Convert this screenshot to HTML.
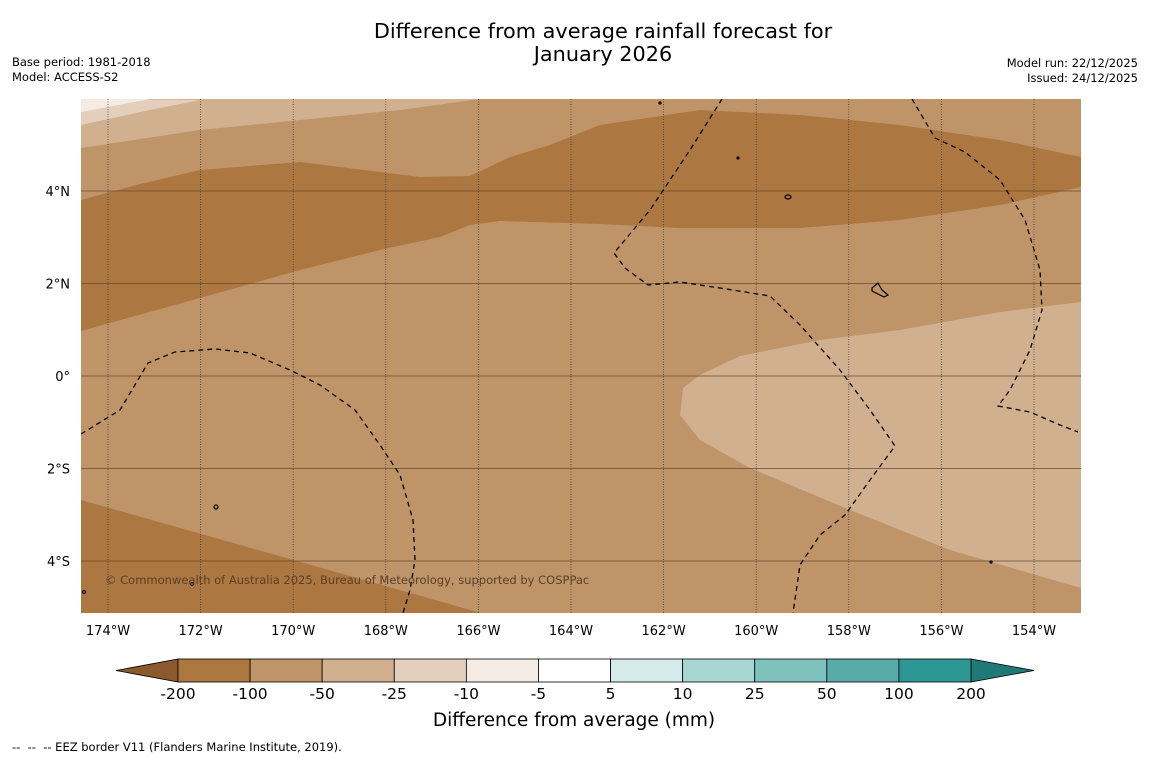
<!DOCTYPE html>
<html><head><meta charset="utf-8"><style>
body{margin:0;background:#fff;font-family:"DejaVu Sans",sans-serif;}
svg{display:block}
</style></head><body>
<svg width="1150" height="758" viewBox="0 0 1150 758" font-family="DejaVu Sans, sans-serif">
<text x="603" y="38" font-size="20.8" text-anchor="middle">Difference from average rainfall forecast for</text>
<text x="603" y="61" font-size="20.8" text-anchor="middle">January 2026</text>
<text x="12" y="66" font-size="11.5">Base period: 1981-2018</text>
<text x="12" y="81" font-size="11.5">Model: ACCESS-S2</text>
<text x="1138" y="67" font-size="11.5" text-anchor="end">Model run: 22/12/2025</text>
<text x="1138" y="82" font-size="11.5" text-anchor="end">Issued: 24/12/2025</text>
<defs><clipPath id="mc"><rect x="81" y="99" width="1000" height="514"/></clipPath></defs>
<g clip-path="url(#mc)">
<rect x="81" y="99" width="1000" height="514" fill="#c09469"/>
<path d="M81,148 L200,130 L300,120 L400,110 L480,99 L81,99Z" fill="#d1b08f"/>
<path d="M81,125 L150,110 L200,100 L81,99Z" fill="#e4cfbc"/>
<path d="M81,112 L150,99 L81,99Z" fill="#f3ebe4"/>
<path d="M81,200 L140,184 L200,170 L300,162 L420,177 L470,176 L510,157 L550,145 L600,125 L700,110 L800,115 L900,125 L1000,140 L1081,157 L1081,187 L1000,205 L900,220 L800,228 L680,228 L600,224 L500,221 L470,225 L440,237 L380,250 L300,270 L200,298 L81,331Z" fill="#ad7741"/>
<path d="M81,500 L481,613 L81,613Z" fill="#ad7741"/>
<path d="M1081,302 L1000,312 L900,330 L820,340 L740,356 L700,375 L683,388 L680,415 L700,440 L750,468 L850,510 L950,550 L1081,588Z" fill="#d1b08f"/>
<g id="grat"></g>
<g fill="none" stroke="#000" stroke-width="1.3" stroke-dasharray="5,4">
<path d="M81,434 L120,410 L148,363 L175,352 L215,349 L250,353 L290,370 L320,385 L355,410 L380,445 L400,475 L413,520 L415,560 L410,590 L403,613"/>
<path d="M722,99 L690,150 L650,210 L614,253 L625,268 L648,285 L680,282 L720,288 L770,296 L800,325 L840,370 L870,410 L895,446 L870,480 L845,515 L820,535 L800,565 L793,613"/>
<path d="M912,99 L935,138 L965,152 L1000,180 L1025,220 L1040,270 L1042,310 L1030,350 L1010,390 L998,406 L1030,412 L1060,425 L1078,432"/>
</g>
<g fill="none" stroke="#000" stroke-width="1.2">
<ellipse cx="788" cy="197" rx="3" ry="2"/><path d="M872,288 L878,283 L882,290 L888,295 L884,297 L872,291Z"/>
<ellipse cx="216" cy="507" rx="2" ry="2"/><circle cx="192" cy="584" r="1.5"/><circle cx="660" cy="103" r="1"/><circle cx="738" cy="158" r="1"/><circle cx="991" cy="562" r="1"/><circle cx="84" cy="592" r="1.5"/>
</g>
<text x="105" y="584" font-size="11.5" fill="#5a4028">© Commonwealth of Australia 2025, Bureau of Meteorology, supported by COSPPac</text>
</g>
<g id="axes"></g>
<g id="cbar"></g>
<text x="574" y="726" font-size="18.5" text-anchor="middle">Difference from average (mm)</text>
<text x="12" y="751" font-size="11.5" xml:space="preserve">--  --  -- EEZ border V11 (Flanders Marine Institute, 2019).</text>
</svg>
<script>
const lonTicks=[-174,-172,-170,-168,-166,-164,-162,-160,-158,-156,-154];
const latTicks=[4,2,0,-2,-4];
const cbLabels=["-200","-100","-50","-25","-10","-5","5","10","25","50","100","200"];
const cbColors=["#ad7741","#c09469","#d1b08f","#e4cfbc","#f3ebe4","#ffffff","#d5ebe9","#a8d6d3","#7fc1bd","#58aba8","#2d9793"];
const lowColor="#8a5a2e",highColor="#1f7a77";
const NS="http://www.w3.org/2000/svg";
const xLon=l=>108+(l+174)*46.3;
const yLat=l=>376-l*46.25;
function mk(t,a,p){const e=document.createElementNS(NS,t);for(const k in a)e.setAttribute(k,a[k]);p.appendChild(e);return e;}
const grat=document.getElementById('grat'),axes=document.getElementById('axes'),cb=document.getElementById('cbar');
lonTicks.forEach(l=>{const x=xLon(l);
const ln=mk('line',{x1:x,x2:x,y1:99,y2:613,stroke:'#333','stroke-width':0.7,'stroke-dasharray':'1,1.5'},grat);


const t=mk('text',{x:x,y:635,'font-size':13,'text-anchor':'middle'},axes);t.textContent=Math.abs(l)+'°W';

});
latTicks.forEach(l=>{const y=yLat(l);
const ln=mk('line',{x1:81,x2:1081,y1:y,y2:y,stroke:'#6b4a2a','stroke-width':0.8},grat);


const t=mk('text',{x:70,y:y+5,'font-size':13,'text-anchor':'end'},axes);t.textContent=l===0?'0°':Math.abs(l)+'°'+(l>0?'N':'S');

});
const x0=178,w=(971-178)/cbColors.length,y0=659,h=23;
const lt=mk('polygon',{points:`116,670.5 ${x0},${y0} ${x0},${y0+h}`,fill:lowColor,stroke:'#000','stroke-width':0.8},cb);


const rt=mk('polygon',{points:`1034,670.5 971,${y0} 971,${y0+h}`,fill:highColor,stroke:'#000','stroke-width':0.8},cb);


cbColors.forEach((c,i)=>{const r=mk('rect',{x:x0+i*w,y:y0,width:w,height:h,fill:c,stroke:'#000','stroke-width':0.8},cb);

});
cbLabels.forEach((s,i)=>{const t=mk('text',{x:x0+i*w,y:699,'font-size':15.5,'text-anchor':'middle'},cb);t.textContent=s;

});
</script>
</body></html>
